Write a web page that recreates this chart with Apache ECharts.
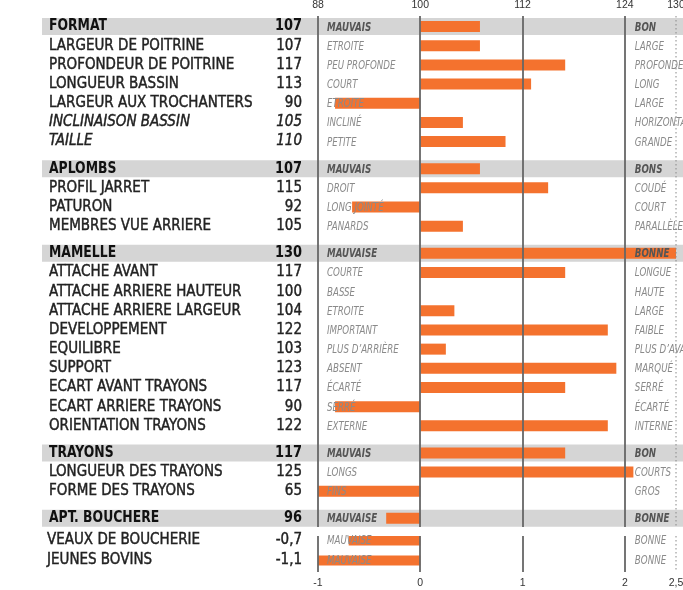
<!DOCTYPE html>
<html>
<head>
<meta charset="utf-8">
<script src="https://cdn.jsdelivr.net/npm/echarts@6/dist/echarts.min.js"></script>
<style>
html, body { margin: 0; padding: 0; background: #fff; }
#chart { width: 683px; height: 590px; }
</style>
</head>
<body>
<div id="chart"></div>
<script>
// index rows (top block, scale 88..130)
var rowNames = ['FORMAT', 'LARGEUR DE POITRINE', 'PROFONDEUR DE POITRINE', 'LONGUEUR BASSIN',
    'LARGEUR AUX TROCHANTERS', 'INCLINAISON BASSIN', 'TAILLE',
    'APLOMBS', 'PROFIL JARRET', 'PATURON', 'MEMBRES VUE ARRIERE',
    'MAMELLE', 'ATTACHE AVANT', 'ATTACHE ARRIERE HAUTEUR', 'ATTACHE ARRIERE LARGEUR',
    'DEVELOPPEMENT', 'EQUILIBRE', 'SUPPORT', 'ECART AVANT TRAYONS', 'ECART ARRIERE TRAYONS',
    'ORIENTATION TRAYONS',
    'TRAYONS', 'LONGUEUR DES TRAYONS', 'FORME DES TRAYONS',
    'APT. BOUCHERE'];
var rowValues = [107, 107, 117, 113, 90, 105, 110,
    107, 115, 92, 105,
    130, 117, 100, 104, 122, 103, 123, 117, 90, 122,
    117, 125, 65,
    96];
var lowLabels = ['MAUVAIS', 'ETROITE', 'PEU PROFONDE', 'COURT', 'ETROITE', 'INCLINÉ', 'PETITE',
    'MAUVAIS', 'DROIT', 'LONG JOINTÉ', 'PANARDS',
    'MAUVAISE', 'COURTE', 'BASSE', 'ETROITE', 'IMPORTANT', 'PLUS D\u2019ARRIÈRE', 'ABSENT', 'ÉCARTÉ', 'SERRÉ', 'EXTERNE',
    'MAUVAIS', 'LONGS', 'FINS',
    'MAUVAISE'];
var highLabels = ['BON', 'LARGE', 'PROFONDE', 'LONG', 'LARGE', 'HORIZONTAL', 'GRANDE',
    'BONS', 'COUDÉ', 'COURT', 'PARALLÈLES',
    'BONNE', 'LONGUE', 'HAUTE', 'LARGE', 'FAIBLE', 'PLUS D\u2019AVANT', 'MARQUÉ', 'SERRÉ', 'ÉCARTÉ', 'INTERNE',
    'BON', 'COURTS', 'GROS',
    'BONNE'];
var headerRows = [0, 7, 11, 21, 24];
var italicRows = [5, 6];

// aptitude bouchere rows (bottom block, scale -1..2,5)
var boucherieNames = ['VEAUX DE BOUCHERIE', 'JEUNES BOVINS'];
var boucherieValues = [-0.7, -1.1];
var boucherieLow = ['MAUVAISE', 'MAUVAISE'];
var boucherieHigh = ['BONNE', 'BONNE'];

var indexTicks = [88, 100, 112, 124, 130];
var boucherieTicks = [-1, 0, 1, 2, 2.5];

var font = '"DejaVu Sans Condensed", "Liberation Sans Narrow", "DejaVu Sans", sans-serif';
var orange = '#f4722e';
var sectionGap = 0.415;

function fmt(v) {
    return String(v).replace('.', ',');
}

// y position of each row: one unit per row, plus a small gap before each new section
var rowPos = [];
var sec = -1;
for (var i = 0; i < rowNames.length; i++) {
    if (headerRows.indexOf(i) >= 0) sec++;
    rowPos.push(i + sectionGap * sec);
}
var topMin = -0.55, topMax = rowPos[rowPos.length - 1] + 0.45;
var botMin = -0.225, botMax = 1.575;

function barItem(base, h) {
    return function (params, api) {
        var s = api.coord([base, api.value(1)]);
        var e = api.coord([api.value(0), api.value(1)]);
        var cs = params.coordSys;
        var rect = echarts.graphic.clipRectByRect(
            { x: Math.min(s[0], e[0]), y: s[1] - h / 2, width: Math.abs(e[0] - s[0]), height: h },
            { x: cs.x, y: cs.y, width: cs.width, height: cs.height });
        if (!rect) return;
        return { type: 'rect', shape: rect, style: { fill: orange } };
    };
}

function lineItem(ticks, yVal) {
    return function (params, api) {
        var x = Math.round(api.coord([api.value(0), yVal])[0]);
        var cs = params.coordSys;
        var last = api.value(0) === ticks[ticks.length - 1];
        return {
            type: 'line',
            shape: { x1: x, y1: cs.y, x2: x, y2: cs.y + cs.height },
            style: last ? { stroke: '#888', lineWidth: 1, lineDash: [1.5, 2.5] }
                        : { stroke: '#666', lineWidth: 1.8 }
        };
    };
}

function txt(x, y, s, f, color, align, sx, heavy) {
    var st = { text: s, font: f, fill: color, align: align, verticalAlign: 'middle',
               textAlign: align, textVerticalAlign: 'middle' };
    if (heavy) {
        st.stroke = color;
        st.lineWidth = heavy;
    }
    return { type: 'text', x: x, y: y, scaleX: sx || 1, style: st };
}

function textItem(names, values, lows, highs, nameX, isTop) {
    return function (params, api) {
        var i = api.value(2);
        var y = api.coord([0, api.value(1)])[1];
        var x88 = params.coordSys.x;
        var x124 = api.coord([isTop ? 124 : 2, api.value(1)])[0];
        var header = isTop && headerRows.indexOf(i) >= 0;
        var ital = isTop && italicRows.indexOf(i) >= 0;
        var nf = (ital ? 'italic ' : '') + (header ? 'bold 15px ' : '15px ') + font;
        var df = 'italic ' + (header ? 'bold ' : '') + '11.5px ' + font;
        var dc = header ? '#555' : '#8a8a8a';
        var ink = header ? '#111' : '#222';
        var heavy = header ? 0 : 0.4;
        return {
            type: 'group',
            children: [
                txt(nameX, y, names[i], nf, ink, 'left', header ? 0.92 : 1, heavy),
                txt(302, y, fmt(values[i]), nf, ink, 'right', header ? 0.96 : 1, heavy),
                txt(x88 + 9, y + 1, lows[i], df, dc, 'left', 0.84),
                txt(x124 + 10, y + 1, highs[i], df, dc, 'left', 0.84)
            ]
        };
    };
}

var topRows = rowNames.map(function (n, i) { return [rowValues[i], rowPos[i], i]; });
var botRows = boucherieNames.map(function (n, i) { return [boucherieValues[i], i, i]; });

var option = {
    animation: false,
    grid: [
        { left: 318, right: 7, top: 16, height: 511, outerBoundsMode: 'none' },
        { left: 318, right: 7, top: 536, height: 36, outerBoundsMode: 'none' }
    ],
    xAxis: [
        { gridIndex: 0, type: 'value', position: 'top', min: 88, max: 130,
          axisLine: { show: false }, axisTick: { show: false }, splitLine: { show: false },
          axisLabel: { customValues: indexTicks, margin: 5, fontSize: 10.5, color: '#333',
                       fontFamily: 'Liberation Sans' } },
        { gridIndex: 1, type: 'value', position: 'bottom', min: -1, max: 2.5,
          axisLine: { show: false }, axisTick: { show: false }, splitLine: { show: false },
          axisLabel: { customValues: boucherieTicks, margin: 6, fontSize: 10.5, color: '#333',
                       fontFamily: 'Liberation Sans', formatter: fmt } }
    ],
    yAxis: [
        { gridIndex: 0, type: 'value', inverse: true, min: topMin, max: topMax, show: false },
        { gridIndex: 1, type: 'value', inverse: true, min: botMin, max: botMax, show: false }
    ],
    series: [
        { type: 'custom', name: 'bands', xAxisIndex: 0, yAxisIndex: 0, z: 1, clip: false,
          renderItem: function (params, api) {
              var i = api.value(2);
              if (headerRows.indexOf(i) < 0) return;
              var y = api.coord([100, api.value(1)])[1];
              return { type: 'rect', shape: { x: 42, y: y - 8.5, width: api.getWidth(), height: 17 },
                       style: { fill: '#d5d5d5' } };
          },
          data: topRows },
        { type: 'custom', name: 'bars', xAxisIndex: 0, yAxisIndex: 0, z: 2,
          renderItem: barItem(100, 11), data: topRows },
        { type: 'custom', name: 'bars2', xAxisIndex: 1, yAxisIndex: 1, z: 2,
          renderItem: barItem(0, 10), data: botRows },
        { type: 'custom', name: 'lines', xAxisIndex: 0, yAxisIndex: 0, z: 3,
          renderItem: lineItem(indexTicks, 0), data: indexTicks.map(function (t) { return [t, 0]; }) },
        { type: 'custom', name: 'lines2', xAxisIndex: 1, yAxisIndex: 1, z: 3,
          renderItem: lineItem(boucherieTicks, 0), data: boucherieTicks.map(function (t) { return [t, 0]; }) },
        { type: 'custom', name: 'labels', xAxisIndex: 0, yAxisIndex: 0, z: 4, clip: false,
          renderItem: textItem(rowNames, rowValues, lowLabels, highLabels, 49, true), data: topRows },
        { type: 'custom', name: 'labels2', xAxisIndex: 1, yAxisIndex: 1, z: 4, clip: false,
          renderItem: textItem(boucherieNames, boucherieValues, boucherieLow, boucherieHigh, 47, false), data: botRows }
    ]
};

var myChart = echarts.init(document.getElementById('chart'));
myChart.setOption(option);
</script>
</body>
</html>
